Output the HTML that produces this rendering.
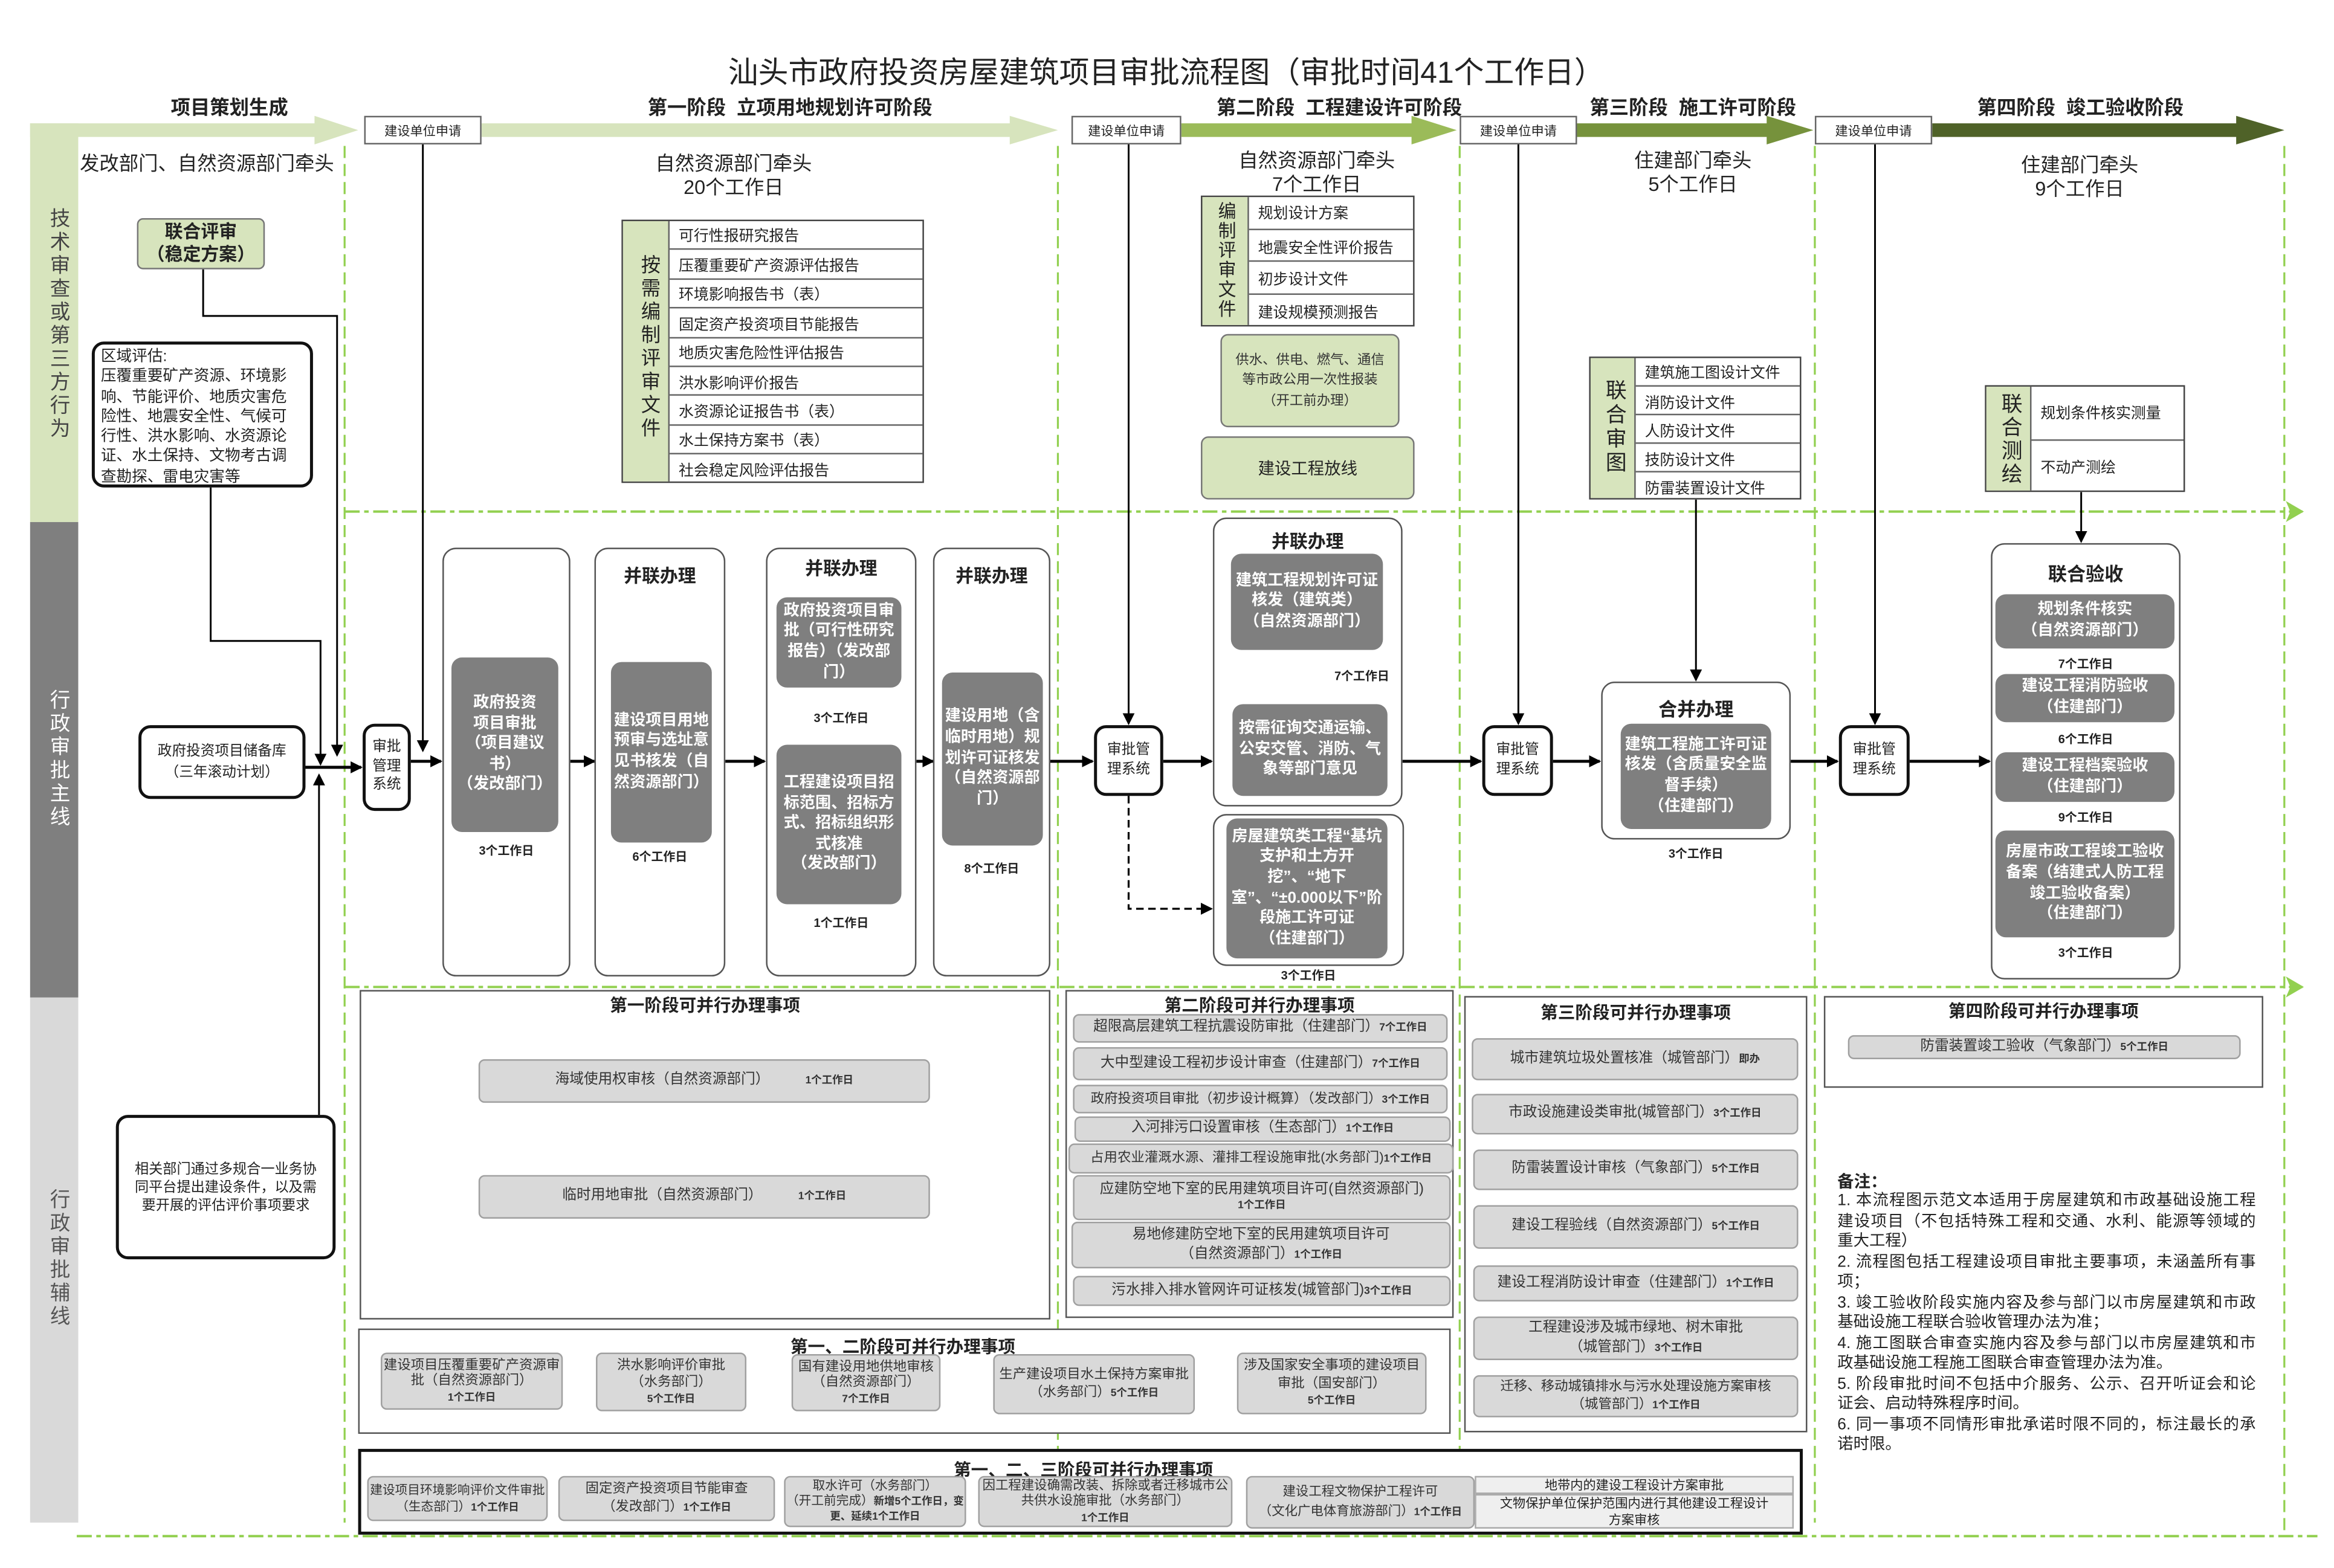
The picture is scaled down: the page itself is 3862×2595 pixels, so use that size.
<!DOCTYPE html>
<html><head><meta charset="utf-8">
<style>
html,body{margin:0;padding:0;background:#fff;}
body{width:3862px;height:2594px;overflow:hidden;position:relative;}
#c{position:absolute;left:0;top:0;width:1551px;height:1042px;transform:scale(2.49);transform-origin:0 0;font-family:"Liberation Sans","Noto Sans CJK SC",sans-serif;color:#222;}
.a{position:absolute;box-sizing:border-box;}
.f{display:flex;align-items:center;justify-content:center;text-align:center;}
.g{background:#7f7f7f;color:#fff;border-radius:7px;font-size:10.5px;line-height:1.3;font-weight:bold;padding:2px;}
.o{border:1px solid #555;border-radius:9px;background:#fff;}
.i{background:#d9d9d9;border:1px solid #a0a0a0;border-radius:4px;font-size:9.5px;color:#333;line-height:1.3;}
.d{font-size:7px;font-weight:bold;}
.wd{font-size:8px;font-weight:bold;text-align:center;}
.t{font-weight:bold;font-size:11.5px;text-align:center;}
.sys{border:2px solid #111;border-radius:8px;background:#fff;font-size:9.5px;line-height:1.35;}
.app{border:1px solid #666;background:#fff;font-size:8.5px;}
.gr{background:#d7e4bd;}
.tb{border:1px solid #444;background:#fff;}
.row{position:absolute;left:0;right:0;border-top:1px solid #666;font-size:10px;padding-left:6px;display:flex;align-items:center;box-sizing:border-box;}
.vt{writing-mode:vertical-rl;text-orientation:upright;}
.n{width:278px;font-size:10.6px;line-height:13.5px;white-space:nowrap;}
.j{text-align:justify;text-align-last:justify;}
.sh{font-weight:bold;font-size:13px;}
.lb{background:#fff;border:1px solid #555;}
</style></head><body><div id="c">

<svg class="a" style="left:0;top:0" width="1551" height="1042" viewBox="0 0 1551 1042">
<defs>
<marker id="m" markerWidth="8" markerHeight="8" refX="7" refY="4" orient="auto" markerUnits="userSpaceOnUse"><path d="M0,0 L8,4 L0,8 z" fill="#000"/></marker>
<marker id="g" markerWidth="12" markerHeight="14" refX="11" refY="7" orient="auto" markerUnits="userSpaceOnUse"><path d="M0,0 L12,7 L0,14 L3,7 z" fill="#92d050"/></marker>
</defs>
<polygon points="20,82 209,82 209,77 238,86.5 209,96 209,91 20,91" fill="#d7e4bd"/>
<rect x="20" y="82" width="32" height="265" fill="#d7e4bd"/>
<rect x="20" y="347" width="32" height="316" fill="#7f7f7f"/>
<rect x="20" y="663" width="32" height="349" fill="#d9d9d9"/>
<polygon points="320,82 671,82 671,77 703,86.5 671,96 671,91 320,91" fill="#d7e4bd"/>
<polygon points="785,82 938,82 938,77 968,86.5 938,96 938,91 785,91" fill="#9bbb59"/>
<polygon points="1048,82 1174,82 1174,77 1205,86.5 1174,96 1174,91 1048,91" fill="#76923c"/>
<polygon points="1284,82 1486,82 1486,77 1518,86.5 1486,96 1486,91 1284,91" fill="#4f6228"/>
<g stroke="#92d050" stroke-width="1.3" stroke-dasharray="8 4" fill="none">
<line x1="229" y1="97" x2="229" y2="1012"/>
<line x1="703" y1="97" x2="703" y2="1012"/>
<line x1="970" y1="97" x2="970" y2="1012"/>
<line x1="1206" y1="97" x2="1206" y2="1012"/>
<line x1="1518" y1="97" x2="1518" y2="1020"/>
</g>
<g stroke="#92d050" stroke-width="1.6" stroke-dasharray="10 3 3 3" fill="none">
<line x1="229" y1="340" x2="1530" y2="340" marker-end="url(#g)"/>
<line x1="229" y1="656" x2="1530" y2="656" marker-end="url(#g)"/>
<line x1="51" y1="1021" x2="1540" y2="1021"/>
</g>
<g stroke="#000" stroke-width="1.2" fill="none">
<polyline points="135,179 135,210 224,210 224,502" marker-end="url(#m)"/>
<polyline points="140,324 140,426 213,426 213,508" marker-end="url(#m)"/>
<polyline points="212,741 212,515" marker-end="url(#m)"/>
<line x1="281" y1="96" x2="281" y2="499" marker-end="url(#m)"/>
<line x1="750" y1="96" x2="750" y2="481" marker-end="url(#m)"/>
<line x1="1009" y1="96" x2="1009" y2="481" marker-end="url(#m)"/>
<line x1="1246" y1="96" x2="1246" y2="481" marker-end="url(#m)"/>
<line x1="1127" y1="332" x2="1127" y2="452" marker-end="url(#m)"/>
<line x1="1383" y1="327" x2="1383" y2="360" marker-end="url(#m)"/>
<line x1="868" y1="432" x2="868" y2="466" marker-end="url(#m)"/>
</g>
<g stroke="#000" stroke-width="2" fill="none">
<line x1="203" y1="510" x2="240" y2="510" marker-end="url(#m)"/>
<line x1="273" y1="506" x2="293" y2="506" marker-end="url(#m)"/>
<line x1="379" y1="506" x2="395" y2="506" marker-end="url(#m)"/>
<line x1="482" y1="506" x2="508" y2="506" marker-end="url(#m)"/>
<line x1="609" y1="506" x2="620" y2="506" marker-end="url(#m)"/>
<line x1="698" y1="506" x2="726" y2="506" marker-end="url(#m)"/>
<line x1="773" y1="506" x2="805" y2="506" marker-end="url(#m)"/>
<line x1="932" y1="506" x2="984" y2="506" marker-end="url(#m)"/>
<line x1="1032" y1="506" x2="1063" y2="506" marker-end="url(#m)"/>
<line x1="1190" y1="506" x2="1221" y2="506" marker-end="url(#m)"/>
<line x1="1269" y1="506" x2="1322" y2="506" marker-end="url(#m)"/>
</g>
<polyline points="750,529 750,604 805,604" stroke="#000" stroke-width="1.3" stroke-dasharray="5 3" fill="none" marker-end="url(#m)"/>
</svg>

<div class="a" style="left:400px;top:32px;width:750px;text-align:center;font-size:20px;">汕头市政府投资房屋建筑项目审批流程图（审批时间41个工作日）</div>
<div class="a sh" style="left:80px;top:61px;width:145px;text-align:center">项目策划生成</div>
<div class="a sh" style="left:400px;top:61px;width:250px;text-align:center">第一阶段&nbsp;&nbsp;立项用地规划许可阶段</div>
<div class="a sh" style="left:780px;top:61px;width:220px;text-align:center">第二阶段&nbsp;&nbsp;工程建设许可阶段</div>
<div class="a sh" style="left:1040px;top:61px;width:170px;text-align:center">第三阶段&nbsp;&nbsp;施工许可阶段</div>
<div class="a sh" style="left:1300px;top:61px;width:165px;text-align:center">第四阶段&nbsp;&nbsp;竣工验收阶段</div>

<div class="a app f" style="left:242px;top:77px;width:78px;height:19px">建设单位申请</div>
<div class="a app f" style="left:712px;top:77px;width:73px;height:19px">建设单位申请</div>
<div class="a app f" style="left:970px;top:77px;width:78px;height:19px">建设单位申请</div>
<div class="a app f" style="left:1206px;top:77px;width:78px;height:19px">建设单位申请</div>

<div class="a vt" style="left:28px;top:138px;font-size:13.5px;letter-spacing:2px;color:#444">技术审查或第三方行为</div>
<div class="a vt" style="left:28px;top:458px;font-size:13.5px;letter-spacing:2px;color:#fff">行政审批主线</div>
<div class="a vt" style="left:28px;top:790px;font-size:13.5px;letter-spacing:2px;color:#555">行政审批辅线</div>

<div class="a" style="left:53px;top:98px;font-size:13px;white-space:nowrap">发改部门、自然资源部门牵头</div>
<div class="a f gr" style="left:91px;top:145px;width:85px;height:34px;border:1px solid #777;border-radius:4px;font-weight:bold;font-size:12px;line-height:1.25"><div>联合评审<br>（稳定方案）</div></div>
<div class="a" style="left:61px;top:227px;width:147px;height:97px;border:2px solid #111;border-radius:8px;background:#fff;font-size:10.3px;line-height:13.3px;padding:2px 4px;white-space:nowrap">区域评估:<br>压覆重要矿产资源、环境影<br>响、节能评价、地质灾害危<br>险性、地震安全性、气候可<br>行性、洪水影响、水资源论<br>证、水土保持、文物考古调<br>查勘探、雷电灾害等</div>
<div class="a f" style="left:92px;top:482px;width:111px;height:49px;border:2px solid #111;border-radius:8px;background:#fff;font-size:9.5px;line-height:1.4"><div>政府投资项目储备库<br>（三年滚动计划）</div></div>
<div class="a f" style="left:77px;top:741px;width:146px;height:96px;border:2px solid #111;border-radius:8px;background:#fff;font-size:9.3px;line-height:1.3"><div>相关部门通过多规合一业务协<br>同平台提出建设条件，以及需<br>要开展的评估评价事项要求</div></div>

<div class="a" style="left:400px;top:101px;width:175px;text-align:center;font-size:13px;line-height:16px">自然资源部门牵头<br>20个工作日</div>
<div class="a tb" style="left:413px;top:146px;width:201px;height:175px">
 <div class="a gr" style="left:0;top:0;width:31px;height:100%;border-right:1px solid #666"></div>
 <div class="a vt" style="left:8px;top:22px;font-size:13px;letter-spacing:2.5px">按需编制评审文件</div>
 <div class="row" style="left:31px;top:-1px;height:19.4px;border-top:none">可行性报研究报告</div>
 <div class="row" style="left:31px;top:18.4px;height:19.4px">压覆重要矿产资源评估报告</div>
 <div class="row" style="left:31px;top:37.8px;height:19.4px">环境影响报告书（表）</div>
 <div class="row" style="left:31px;top:57.2px;height:19.4px">固定资产投资项目节能报告</div>
 <div class="row" style="left:31px;top:76.6px;height:19.4px">地质灾害危险性评估报告</div>
 <div class="row" style="left:31px;top:96px;height:19.4px">洪水影响评价报告</div>
 <div class="row" style="left:31px;top:115.4px;height:19.4px">水资源论证报告书（表）</div>
 <div class="row" style="left:31px;top:134.8px;height:19.4px">水土保持方案书（表）</div>
 <div class="row" style="left:31px;top:154.2px;height:19.4px">社会稳定风险评估报告</div>
</div>

<div class="a" style="left:800px;top:99px;width:150px;text-align:center;font-size:13px;line-height:16px">自然资源部门牵头<br>7个工作日</div>
<div class="a tb" style="left:798px;top:130px;width:142px;height:87px">
 <div class="a gr" style="left:0;top:0;width:31px;height:100%;border-right:1px solid #666"></div>
 <div class="a vt" style="left:8px;top:3px;font-size:12px;letter-spacing:1px">编制评审文件</div>
 <div class="row" style="left:31px;top:-1px;height:21.7px;border-top:none">规划设计方案</div>
 <div class="row" style="left:31px;top:20.7px;height:21.7px">地震安全性评价报告</div>
 <div class="row" style="left:31px;top:42.4px;height:21.7px">初步设计文件</div>
 <div class="row" style="left:31px;top:64.1px;height:21.7px">建设规模预测报告</div>
</div>
<div class="a f gr" style="left:811px;top:222px;width:119px;height:62px;border:1px solid #777;border-radius:5px;font-size:9px;line-height:1.45;color:#333"><div>供水、供电、燃气、通信<br>等市政公用一次性报装<br>（开工前办理）</div></div>
<div class="a f gr" style="left:798px;top:290px;width:142px;height:42px;border:1px solid #777;border-radius:5px;font-size:11px">建设工程放线</div>

<div class="a" style="left:1050px;top:99px;width:150px;text-align:center;font-size:13px;line-height:16px">住建部门牵头<br>5个工作日</div>
<div class="a tb" style="left:1056px;top:237px;width:141px;height:95px">
 <div class="a gr" style="left:0;top:0;width:30px;height:100%;border-right:1px solid #666"></div>
 <div class="a vt" style="left:7px;top:14px;font-size:14px;letter-spacing:2px">联合审图</div>
 <div class="row" style="left:30px;top:-1px;height:19px;border-top:none">建筑施工图设计文件</div>
 <div class="row" style="left:30px;top:18px;height:19px">消防设计文件</div>
 <div class="row" style="left:30px;top:37px;height:19px">人防设计文件</div>
 <div class="row" style="left:30px;top:56px;height:19px">技防设计文件</div>
 <div class="row" style="left:30px;top:75px;height:19px">防雷装置设计文件</div>
</div>

<div class="a" style="left:1307px;top:102px;width:150px;text-align:center;font-size:13px;line-height:16px">住建部门牵头<br>9个工作日</div>
<div class="a tb" style="left:1319px;top:256px;width:133px;height:71px">
 <div class="a gr" style="left:0;top:0;width:30px;height:100%;border-right:1px solid #666"></div>
 <div class="a vt" style="left:7px;top:4px;font-size:14px;letter-spacing:1.5px">联合测绘</div>
 <div class="row" style="left:30px;top:-1px;height:35.5px;border-top:none">规划条件核实测量</div>
 <div class="row" style="left:30px;top:34.5px;height:35.5px">不动产测绘</div>
</div>

<div class="a sys f" style="left:241px;top:481px;width:32px;height:58px"><div>审批<br>管理<br>系统</div></div>
<div class="a sys f" style="left:727px;top:482px;width:46px;height:47px"><div>审批管<br>理系统</div></div>
<div class="a sys f" style="left:985px;top:482px;width:47px;height:47px"><div>审批管<br>理系统</div></div>
<div class="a sys f" style="left:1222px;top:482px;width:47px;height:47px"><div>审批管<br>理系统</div></div>

<div class="a o" style="left:294px;top:364px;width:85px;height:285px"></div>
<div class="a g f" style="left:300px;top:437px;width:71px;height:116px"><div>政府投资<br>项目审批<br>（项目建议<br>书）<br>（发改部门）</div></div>
<div class="a wd" style="left:294px;top:560px;width:85px">3个工作日</div>

<div class="a o" style="left:395px;top:364px;width:87px;height:285px"></div>
<div class="a t" style="left:395px;top:374px;width:87px;font-size:12px">并联办理</div>
<div class="a g f" style="left:406px;top:440px;width:67px;height:120px"><div>建设项目用地预审与选址意见书核发（自然资源部门）</div></div>
<div class="a wd" style="left:395px;top:564px;width:87px">6个工作日</div>

<div class="a o" style="left:509px;top:364px;width:100px;height:285px"></div>
<div class="a t" style="left:509px;top:369px;width:100px;font-size:12px">并联办理</div>
<div class="a g f" style="left:516px;top:397px;width:83px;height:60px"><div>政府投资项目审批（可行性研究报告）（发改部门）</div></div>
<div class="a wd" style="left:509px;top:472px;width:100px">3个工作日</div>
<div class="a g f" style="left:516px;top:495px;width:83px;height:106px"><div>工程建设项目招标范围、招标方式、招标组织形式核准<br>（发改部门）</div></div>
<div class="a wd" style="left:509px;top:608px;width:100px">1个工作日</div>

<div class="a o" style="left:620px;top:364px;width:78px;height:285px"></div>
<div class="a t" style="left:620px;top:374px;width:78px;font-size:12px">并联办理</div>
<div class="a g f" style="left:626px;top:447px;width:67px;height:115px"><div>建设用地（含临时用地）规划许可证核发（自然资源部门）</div></div>
<div class="a wd" style="left:620px;top:572px;width:78px">8个工作日</div>

<div class="a o" style="left:806px;top:344px;width:126px;height:192px"></div>
<div class="a t" style="left:806px;top:351px;width:126px;font-size:12px">并联办理</div>
<div class="a g f" style="left:818px;top:368px;width:101px;height:64px"><div>建筑工程规划许可证核发（建筑类）<br>（自然资源部门）</div></div>
<div class="a wd" style="left:885px;top:444px;width:40px">7个工作日</div>
<div class="a g f" style="left:819px;top:468px;width:103px;height:61px"><div>按需征询交通运输、公安交管、消防、气象等部门意见</div></div>
<div class="a o" style="left:806px;top:541px;width:127px;height:101px"></div>
<div class="a g f" style="left:815px;top:544px;width:107px;height:93px"><div>房屋建筑类工程“基坑支护和土方开挖”、“地下室”、“±0.000以下”阶段施工许可证<br>（住建部门）</div></div>
<div class="a wd" style="left:806px;top:643px;width:127px">3个工作日</div>

<div class="a o" style="left:1064px;top:453px;width:126px;height:105px"></div>
<div class="a t" style="left:1064px;top:461px;width:126px;font-size:12.5px">合并办理</div>
<div class="a g f" style="left:1077px;top:481px;width:100px;height:70px"><div>建筑工程施工许可证核发（含质量安全监督手续）<br>（住建部门）</div></div>
<div class="a wd" style="left:1064px;top:562px;width:126px">3个工作日</div>

<div class="a o" style="left:1323px;top:361px;width:126px;height:290px"></div>
<div class="a t" style="left:1323px;top:371px;width:126px;font-size:12.5px">联合验收</div>
<div class="a g f" style="left:1326px;top:395px;width:119px;height:36px"><div>规划条件核实<br>（自然资源部门）</div></div>
<div class="a wd" style="left:1323px;top:436px;width:126px">7个工作日</div>
<div class="a g f" style="left:1326px;top:448px;width:119px;height:32px"><div>建设工程消防验收<br>（住建部门）</div></div>
<div class="a wd" style="left:1323px;top:486px;width:126px">6个工作日</div>
<div class="a g f" style="left:1326px;top:500px;width:119px;height:33px"><div>建设工程档案验收<br>（住建部门）</div></div>
<div class="a wd" style="left:1323px;top:538px;width:126px">9个工作日</div>
<div class="a g f" style="left:1326px;top:552px;width:119px;height:71px"><div>房屋市政工程竣工验收备案（结建式人防工程竣工验收备案）<br>（住建部门）</div></div>
<div class="a wd" style="left:1323px;top:628px;width:126px">3个工作日</div>

<div class="a lb" style="left:239px;top:658px;width:459px;height:219px"></div>
<div class="a t" style="left:239px;top:660px;width:459px">第一阶段可并行办理事项</div>
<div class="a i f" style="left:318px;top:704px;width:300px;height:29px"><div>海域使用权审核（自然资源部门）&nbsp;&nbsp;&nbsp;&nbsp;&nbsp;&nbsp;&nbsp;&nbsp;&nbsp;<span class="d">1个工作日</span></div></div>
<div class="a i f" style="left:318px;top:781px;width:300px;height:29px"><div>临时用地审批（自然资源部门）&nbsp;&nbsp;&nbsp;&nbsp;&nbsp;&nbsp;&nbsp;&nbsp;&nbsp;<span class="d">1个工作日</span></div></div>

<div class="a lb" style="left:708px;top:658px;width:258px;height:218px"></div>
<div class="a t" style="left:708px;top:660px;width:258px">第二阶段可并行办理事项</div>
<div class="a i f" style="left:713px;top:674px;width:249px;height:19px"><div>超限高层建筑工程抗震设防审批（住建部门）<span class="d">7个工作日</span></div></div>
<div class="a i f" style="left:713px;top:696px;width:249px;height:22px"><div>大中型建设工程初步设计审查（住建部门）<span class="d">7个工作日</span></div></div>
<div class="a i f" style="left:713px;top:721px;width:249px;height:19px;font-size:9px"><div>政府投资项目审批（初步设计概算）（发改部门）<span class="d">3个工作日</span></div></div>
<div class="a i f" style="left:714px;top:742px;width:250px;height:17px"><div>入河排污口设置审核（生态部门）<span class="d">1个工作日</span></div></div>
<div class="a i f" style="left:710px;top:760px;width:256px;height:20px;font-size:9px"><div>占用农业灌溉水源、灌排工程设施审批(水务部门)<span class="d">1个工作日</span></div></div>
<div class="a i f" style="left:713px;top:781px;width:251px;height:30px;line-height:1.1"><div>应建防空地下室的民用建筑项目许可(自然资源部门)<br><span class="d">1个工作日</span></div></div>
<div class="a i f" style="left:712px;top:812px;width:252px;height:31px"><div>易地修建防空地下室的民用建筑项目许可<br>（自然资源部门）<span class="d">1个工作日</span></div></div>
<div class="a i f" style="left:713px;top:848px;width:251px;height:20px"><div>污水排入排水管网许可证核发(城管部门)<span class="d">3个工作日</span></div></div>

<div class="a lb" style="left:973px;top:662px;width:228px;height:290px"></div>
<div class="a t" style="left:973px;top:665px;width:228px">第三阶段可并行办理事项</div>
<div class="a i f" style="left:978px;top:690px;width:217px;height:28px"><div>城市建筑垃圾处置核准（城管部门）<span class="d">即办</span></div></div>
<div class="a i f" style="left:978px;top:727px;width:217px;height:27px"><div>市政设施建设类审批(城管部门）<span class="d">3个工作日</span></div></div>
<div class="a i f" style="left:979px;top:764px;width:216px;height:27px"><div>防雷装置设计审核（气象部门）<span class="d">5个工作日</span></div></div>
<div class="a i f" style="left:979px;top:801px;width:216px;height:29px"><div>建设工程验线（自然资源部门）<span class="d">5个工作日</span></div></div>
<div class="a i f" style="left:979px;top:841px;width:216px;height:24px"><div>建设工程消防设计审查（住建部门）<span class="d">1个工作日</span></div></div>
<div class="a i f" style="left:979px;top:875px;width:216px;height:29px"><div>工程建设涉及城市绿地、树木审批<br>（城管部门）<span class="d">3个工作日</span></div></div>
<div class="a i f" style="left:979px;top:914px;width:216px;height:28px;font-size:9px"><div>迁移、移动城镇排水与污水处理设施方案审核<br>（城管部门）<span class="d">1个工作日</span></div></div>

<div class="a lb" style="left:1212px;top:662px;width:292px;height:61px"></div>
<div class="a t" style="left:1212px;top:664px;width:292px">第四阶段可并行办理事项</div>
<div class="a i f" style="left:1228px;top:688px;width:261px;height:16px"><div>防雷装置竣工验收（气象部门）<span class="d">5个工作日</span></div></div>

<div class="a" style="left:1221px;top:777px;font-weight:bold;font-size:11px">备注：</div>
<div class="a" style="left:1221px;top:792px;">
<div class="n j">1. 本流程图示范文本适用于房屋建筑和市政基础设施工程</div>
<div class="n j">建设项目（不包括特殊工程和交通、水利、能源等领域的</div>
<div class="n">重大工程）</div>
<div class="n j">2. 流程图包括工程建设项目审批主要事项，未涵盖所有事</div>
<div class="n">项；</div>
<div class="n j">3. 竣工验收阶段实施内容及参与部门以市房屋建筑和市政</div>
<div class="n">基础设施工程联合验收管理办法为准；</div>
<div class="n j">4. 施工图联合审查实施内容及参与部门以市房屋建筑和市</div>
<div class="n">政基础设施工程施工图联合审查管理办法为准。</div>
<div class="n j">5. 阶段审批时间不包括中介服务、公示、召开听证会和论</div>
<div class="n">证会、启动特殊程序时间。</div>
<div class="n j">6. 同一事项不同情形审批承诺时限不同的，标注最长的承</div>
<div class="n">诺时限。</div>
</div>

<div class="a lb" style="left:238px;top:883px;width:726px;height:70px"></div>
<div class="a t" style="left:520px;top:887px;width:160px">第一、二阶段可并行办理事项</div>
<div class="a i f" style="left:253px;top:899px;width:121px;height:38px;font-size:9px;line-height:1.2"><div>建设项目压覆重要矿产资源审批（自然资源部门）<br><span class="d">1个工作日</span></div></div>
<div class="a i f" style="left:396px;top:899px;width:100px;height:39px;font-size:9px;line-height:1.2"><div>洪水影响评价审批<br>（水务部门）<br><span class="d">5个工作日</span></div></div>
<div class="a i f" style="left:526px;top:900px;width:99px;height:38px;font-size:9px;line-height:1.2"><div>国有建设用地供地审核（自然资源部门）<br><span class="d">7个工作日</span></div></div>
<div class="a i f" style="left:660px;top:900px;width:134px;height:40px;font-size:9px;line-height:1.3"><div>生产建设项目水土保持方案审批（水务部门）<span class="d">5个工作日</span></div></div>
<div class="a i f" style="left:822px;top:899px;width:126px;height:41px;font-size:9px;line-height:1.3"><div>涉及国家安全事项的建设项目审批（国安部门）<br><span class="d">5个工作日</span></div></div>

<div class="a" style="left:238px;top:963px;width:960px;height:57px;border:2px solid #111;background:#fff"></div>
<div class="a t" style="left:620px;top:969px;width:200px">第一、二、三阶段可并行办理事项</div>
<div class="a i f" style="left:244px;top:981px;width:120px;height:30px;font-size:8.3px;line-height:1.3"><div>建设项目环境影响评价文件审批（生态部门）<span class="d">1个工作日</span></div></div>
<div class="a i f" style="left:371px;top:981px;width:144px;height:30px;font-size:9px;line-height:1.3"><div>固定资产投资项目节能审查<br>（发改部门）<span class="d">1个工作日</span></div></div>
<div class="a i f" style="left:521px;top:981px;width:121px;height:34px;font-size:8.3px;line-height:1.2"><div>取水许可（水务部门）<br>（开工前完成）<span class="d">新增5个工作日，变更、延续1个工作日</span></div></div>
<div class="a i f" style="left:650px;top:981px;width:169px;height:34px;font-size:8.6px;line-height:1.2"><div>因工程建设确需改装、拆除或者迁移城市公共供水设施审批（水务部门）<br><span class="d">1个工作日</span></div></div>
<div class="a i f" style="left:828px;top:981px;width:152px;height:35px;font-size:8.6px;line-height:1.5"><div>建设工程文物保护工程许可<br>（文化广电体育旅游部门）<span class="d">1个工作日</span></div></div>
<div class="a f" style="left:980px;top:981px;width:212px;height:12px;background:#efefef;border:1px solid #aaa;font-size:8.5px">地带内的建设工程设计方案审批</div>
<div class="a f" style="left:980px;top:993px;width:212px;height:23px;background:#efefef;border:1px solid #aaa;font-size:8.5px;line-height:1.25"><div>文物保护单位保护范围内进行其他建设工程设计<br>方案审核</div></div>

</div></body></html>
